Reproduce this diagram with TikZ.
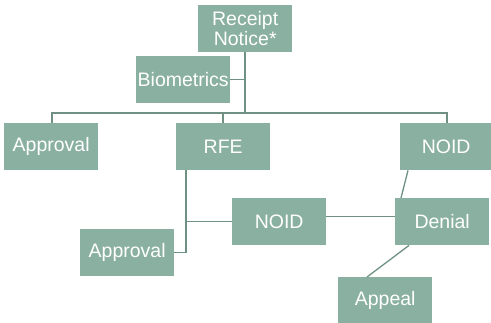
\documentclass[tikz,border=0pt]{standalone}
\usepackage{fontspec}
\setmainfont{Liberation Sans}
\usetikzlibrary{calc}
\definecolor{boxfill}{HTML}{8AB0A2}
\definecolor{linec}{HTML}{6E9184}
\begin{document}
\begin{tikzpicture}[x=1pt,y=-1pt,
  box/.style={fill=boxfill,draw=none,inner sep=0pt,minimum width=94pt,minimum height=47pt,
    text=white,font=\fontsize{19.5}{20}\selectfont,align=center,anchor=north west},
  conn/.style={draw=linec,line width=1.3pt}]
\useasboundingbox (0,0) rectangle (491,322);
\node[box] (rec) at (198,5) {Receipt\\Notice*};
\node[box] (bio) at (136,56) {Biometrics};
\node[box] (app1) at (4,123) {Approval};
\node[box] (rfe) at (176,123) {RFE};
\node[box,minimum width=92pt] (noid1) at (400,123) {NOID};
\node[box] (noid2) at (232,198) {NOID};
\node[box] (app2) at (80,229) {Approval};
\node[box] (den) at (395,198) {Denial};
\node[box] (appe) at (338,277) {Appeal};
\coordinate (bus) at (245,113);
\coordinate (rv) at (186,170);
\draw[conn] (rec.south -| bus) -- (bus);
\draw[conn] (bio.east) -- (bio.east -| bus);
\draw[conn] (app1.north -| 52,0) |- (bus) -| (noid1.north -| 447,0);
\draw[conn] (rfe.north -| 223,0) -- (223,113);
\draw[conn] (rv) |- (app2.east);
\draw[conn] (noid2.west) -- (noid2.west -| rv);
\draw[conn] ($(noid2.east)+(0,-5)$) -- ($(den.west)+(0,-5)$);
\draw[conn] ($(noid1.south west)+(8,0)$) -- ($(den.north west)+(6,0)$);
\draw[conn] ($(den.south west)+(14,0)$) -- ($(appe.north west)+(29,0)$);
\end{tikzpicture}
\end{document}
